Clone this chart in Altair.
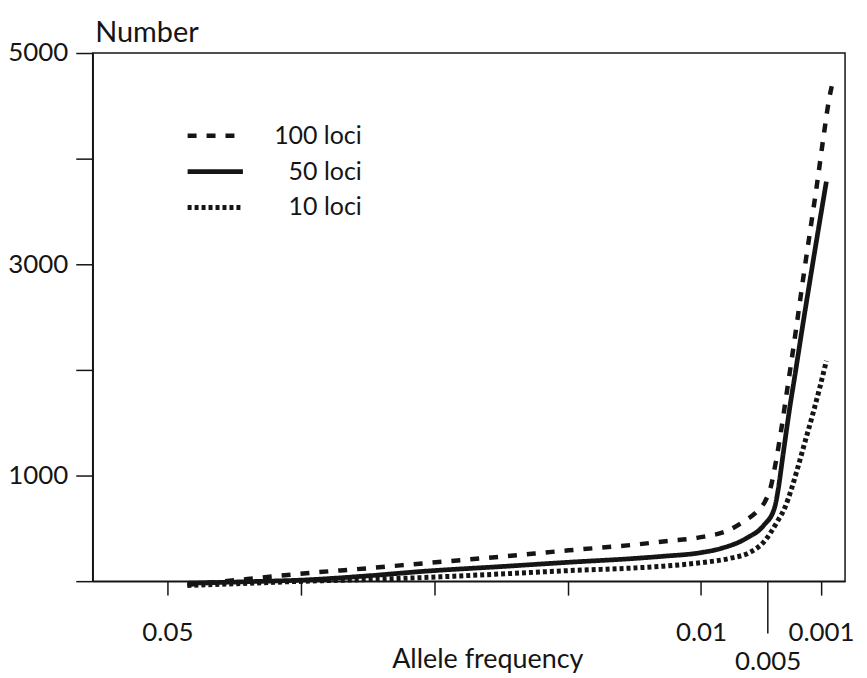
import altair as alt
import pandas as pd

# ---- data ----
series_names = ["100 loci", "50 loci", "10 loci"]

freq_100 = [0.0485, 0.044, 0.0396, 0.035, 0.0307, 0.025, 0.0199, 0.015, 0.0125, 0.0102,
            0.0078, 0.0068, 0.0058, 0.0052, 0.0048, 0.0044, 0.0040, 0.0036, 0.0032,
            0.0028, 0.0023, 0.0018, 0.0013, 0.0008, 0.0004, 0.0001]
num_100 = [-35, 20, 75, 122, 170, 232, 292, 345, 380, 412,
           490, 566, 660, 755, 877, 1120, 1420, 1760, 2100,
           2450, 2900, 3330, 3760, 4220, 4560, 4740]

freq_50 = [0.0485, 0.044, 0.0396, 0.035, 0.0307, 0.025, 0.0199, 0.015, 0.0128, 0.0100,
           0.0085, 0.0066, 0.0053, 0.0045, 0.0042, 0.0039, 0.0036, 0.0033, 0.0030,
           0.0024, 0.0018, 0.0012, 0.0006]
num_50 = [-20, -5, 12, 50, 94, 138, 179, 215, 236, 270,
          310, 406, 528, 689, 877, 1150, 1420, 1680, 1915,
          2400, 2870, 3330, 3783]

freq_10 = [0.0485, 0.044, 0.0396, 0.035, 0.0307, 0.025, 0.0199, 0.015, 0.0128, 0.010,
           0.0078, 0.0063, 0.0053, 0.0043, 0.0037, 0.0032, 0.0028, 0.0022, 0.0016,
           0.0011, 0.0006]
num_10 = [-40, -20, 0, 15, 35, 68, 100, 125, 142, 175,
          217, 275, 370, 560, 700, 880, 1050, 1320, 1590,
          1830, 2085]

x_ticks = [0.05, 0.04, 0.03, 0.02, 0.01, 0.005, 0.001]
y_ticks = [0, 1000, 2000, 3000, 4000, 5000]

rows = []
for name, fs, ns in [("100 loci", freq_100, num_100),
                     ("50 loci", freq_50, num_50),
                     ("10 loci", freq_10, num_10)]:
    for f, n in zip(fs, ns):
        rows.append({"series": name, "freq": f, "number": n})
df = pd.DataFrame(rows)

FONT = "Lato"
INK = "#151515"

chart = alt.Chart(df).mark_line(interpolate="monotone", color=INK).encode(
    x=alt.X(
        "freq:Q",
        scale=alt.Scale(domain=[-0.0008, 0.0556], reverse=True, nice=False, zero=False),
        axis=alt.Axis(
            values=x_ticks,
            format="~g",
            labelExpr="(datum.value == 0.04 || datum.value == 0.03 || datum.value == 0.02) ? '' : datum.label",
            title="Allele frequency",
            tickSize={"condition": {"test": "datum.value == 0.005", "value": 52}, "value": 14},
            labelPadding={"condition": {"test": "datum.value == 0.005", "value": 16}, "value": 25},
            labelOverlap=False,
            labelFlush=False,
            labelBound=False,
            titleX=396,
            titleY=87,
            titleAlign="center",
            titleBaseline="alphabetic",
        ),
    ),
    y=alt.Y(
        "number:Q",
        scale=alt.Scale(domain=[0, 5000], nice=False),
        axis=alt.Axis(
            values=y_ticks,
            format="d",
            labelExpr="(datum.value == 1000 || datum.value == 3000 || datum.value == 5000) ? datum.label : ''",
            title="Number",
            titleFontSize=29,
            tickSize=17,
            labelPadding=8,
            titleAngle=0,
            titleX=2,
            titleY=-12,
            titleAlign="left",
            titleBaseline="alphabetic",
        ),
    ),
    strokeDash=alt.StrokeDash(
        "series:N",
        scale=alt.Scale(domain=series_names, range=[[9, 10], [1, 0], [4, 3]]),
        legend=alt.Legend(title=None),
    ),
    strokeWidth=alt.StrokeWidth(
        "series:N",
        scale=alt.Scale(domain=series_names, range=[4.5, 5, 4.5]),
        legend=alt.Legend(title=None),
    ),
).properties(
    width=755,
    height=530,
    autosize="none",
    padding={"left": 85, "top": 44, "right": 14, "bottom": 96},
).configure_view(
    stroke=INK, strokeWidth=1.5
).configure_axis(
    grid=False,
    domainColor=INK,
    domainWidth=1.5,
    tickColor=INK,
    tickWidth=1.5,
    labelFont=FONT,
    labelFontSize=26,
    labelColor=INK,
    titleFont=FONT,
    titleFontSize=27,
    titleFontWeight="normal",
    titleColor=INK,
).configure_legend(
    orient="none",
    legendX=102,
    legendY=62,
    symbolType="M-1.5,0H1.5",
    symbolSize=1369,
    symbolStrokeColor=INK,
    symbolFillColor="transparent",
    labelFont=FONT,
    labelFontSize=25,
    labelColor=INK,
    labelAlign="right",
    labelOffset=126,
    rowPadding=2,
    padding=0,
)

chart.save("out.html", embed_options={"renderer": "svg", "actions": False})
